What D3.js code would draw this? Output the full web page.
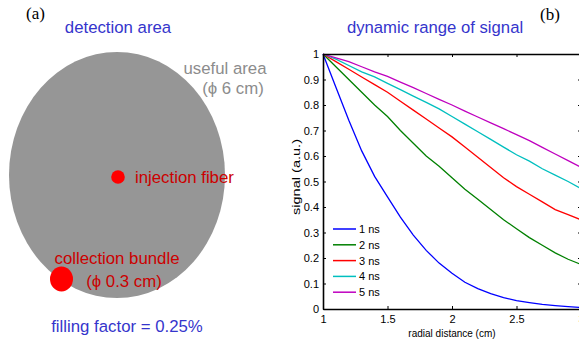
<!DOCTYPE html>
<html>
<head>
<meta charset="utf-8">
<script src="https://cdn.jsdelivr.net/npm/d3@7"></script>
<style>
  body { margin: 0; background: #fff; }
  text { font-family: "Liberation Sans", Arial, sans-serif; }
</style>
</head>
<body>
<div id="fig"></div>
<script>
// radial distance (cm)
const distance = [1.0, 1.1, 1.2, 1.3, 1.4, 1.5, 1.6, 1.7, 1.8, 1.9, 2.0,
                  2.1, 2.2, 2.3, 2.4, 2.5, 2.6, 2.7, 2.8, 2.9, 3.0];

// normalised signal for each gate delay
const ns1 = [1, 0.87, 0.74, 0.62, 0.52, 0.44, 0.36, 0.29, 0.23, 0.18, 0.14,
             0.105, 0.08, 0.06, 0.045, 0.033, 0.025, 0.018, 0.013, 0.009, 0.006];
const ns2 = [1, 0.95, 0.9, 0.85, 0.8, 0.755, 0.70, 0.65, 0.60, 0.56, 0.515,
             0.47, 0.43, 0.39, 0.35, 0.315, 0.28, 0.25, 0.22, 0.195, 0.175];
const ns3 = [1, 0.97, 0.94, 0.91, 0.88, 0.85, 0.815, 0.78, 0.745, 0.71, 0.675,
             0.635, 0.595, 0.555, 0.515, 0.48, 0.45, 0.42, 0.39, 0.37, 0.35];
const ns4 = [1, 0.98, 0.955, 0.93, 0.91, 0.885, 0.86, 0.835, 0.81, 0.785, 0.755,
             0.725, 0.695, 0.665, 0.635, 0.605, 0.58, 0.55, 0.525, 0.5, 0.472];
const ns5 = [1, 0.985, 0.97, 0.95, 0.93, 0.912, 0.89, 0.868, 0.845, 0.822, 0.8,
             0.776, 0.753, 0.73, 0.707, 0.684, 0.66, 0.634, 0.608, 0.582, 0.556];

const seriesNames = ["1 ns", "2 ns", "3 ns", "4 ns", "5 ns"];
const seriesColors = ["#0000ff", "#008000", "#ff0000", "#00bfbf", "#bf00bf"];
const seriesValues = [ns1, ns2, ns3, ns4, ns5];

const xTicks = [1, 1.5, 2, 2.5, 3];
const yTicks = [0, 0.1, 0.2, 0.3, 0.4, 0.5, 0.6, 0.7, 0.8, 0.9, 1];

const W = 579, H = 348;
const svg = d3.select("#fig").append("svg")
    .attr("width", W)
    .attr("height", H);

/* ---------- panel (a): detection area sketch ---------- */
const blue = "#3535cc";
const red = "#cc0000";
const bigFont = "16.8px";

svg.append("text")
    .attr("x", 26).attr("y", 19)
    .style("font-family", "'Liberation Serif', serif")
    .style("font-size", "17px")
    .text("(a)");

svg.append("text")
    .attr("x", 118).attr("y", 33)
    .attr("text-anchor", "middle")
    .attr("fill", blue)
    .style("font-size", bigFont)
    .text("detection area");

svg.append("ellipse")
    .attr("cx", 117).attr("cy", 175)
    .attr("rx", 108).attr("ry", 123)
    .attr("fill", "#969696");

svg.append("text")
    .attr("x", 225).attr("y", 74)
    .attr("text-anchor", "middle")
    .attr("fill", "#8c8c8c")
    .style("font-size", bigFont)
    .text("useful area");
svg.append("text")
    .attr("x", 233).attr("y", 94)
    .attr("text-anchor", "middle")
    .attr("fill", "#8c8c8c")
    .style("font-size", bigFont)
    .text("(\u03d5 6 cm)");

svg.append("circle")
    .attr("cx", 118).attr("cy", 177).attr("r", 6.8)
    .attr("fill", "#ff0000");
svg.append("text")
    .attr("x", 135).attr("y", 183)
    .attr("fill", red)
    .style("font-size", bigFont)
    .text("injection fiber");

svg.append("text")
    .attr("x", 117).attr("y", 264)
    .attr("text-anchor", "middle")
    .attr("fill", red)
    .style("font-size", bigFont)
    .text("collection bundle");
svg.append("text")
    .attr("x", 124).attr("y", 287)
    .attr("text-anchor", "middle")
    .attr("fill", red)
    .style("font-size", bigFont)
    .text("(\u03d5 0.3 cm)");
svg.append("ellipse")
    .attr("cx", 61.5).attr("cy", 279).attr("rx", 11.5).attr("ry", 12.5)
    .attr("fill", "#ff0000");

svg.append("text")
    .attr("x", 127).attr("y", 332)
    .attr("text-anchor", "middle")
    .attr("fill", blue)
    .style("font-size", bigFont)
    .text("filling factor = 0.25%");

/* ---------- panel (b): dynamic range plot ---------- */
svg.append("text")
    .attr("x", 540).attr("y", 20)
    .style("font-family", "'Liberation Serif', serif")
    .style("font-size", "17px")
    .text("(b)");

svg.append("text")
    .attr("x", 435).attr("y", 33)
    .attr("text-anchor", "middle")
    .attr("fill", blue)
    .style("font-size", "16.7px")
    .text("dynamic range of signal");

const x = d3.scaleLinear().domain([1, 3]).range([323, 581]);
const y = d3.scaleLinear().domain([0, 1]).range([309, 54]);

const plot = svg.append("g");

// curves
const line = d3.line()
    .x(d => x(d[0]))
    .y(d => y(d[1]));

seriesValues.forEach((vals, i) => {
    plot.append("path")
        .datum(distance.map((d, j) => [d, vals[j]]))
        .attr("fill", "none")
        .attr("stroke", seriesColors[i])
        .attr("stroke-width", 1.3)
        .attr("d", line);
});

// axes with inward ticks
const fmt = d3.format("~g");
const axBottom = plot.append("g")
    .attr("transform", `translate(0,${y(0)})`)
    .call(d3.axisBottom(x).tickValues(xTicks).tickFormat(fmt).tickSizeInner(-3).tickSizeOuter(0).tickPadding(6));
const axTop = plot.append("g")
    .attr("transform", `translate(0,${y(1)})`)
    .call(d3.axisTop(x).tickValues(xTicks).tickFormat("").tickSizeInner(-3).tickSizeOuter(0));
const axLeft = plot.append("g")
    .attr("transform", `translate(${x(1)},0)`)
    .call(d3.axisLeft(y).tickValues(yTicks).tickFormat(fmt).tickSizeInner(-3).tickSizeOuter(0).tickPadding(4));
const axRight = plot.append("g")
    .attr("transform", `translate(${x(3)},0)`)
    .call(d3.axisRight(y).tickValues(yTicks).tickFormat("").tickSizeInner(-3).tickSizeOuter(0));

[axBottom, axTop, axLeft, axRight].forEach(g => {
    g.select(".domain").attr("stroke", "#000").attr("stroke-width", 1.6);
    g.selectAll(".tick line").attr("stroke", "#000");
    g.selectAll("text")
        .style("font-family", "'Liberation Sans', Arial, sans-serif")
        .style("font-size", "11px")
        .attr("fill", "#000");
});

svg.append("text")
    .attr("x", 452).attr("y", 337)
    .attr("text-anchor", "middle")
    .style("font-size", "10px")
    .text("radial distance (cm)");

svg.append("text")
    .attr("transform", "translate(300,177) rotate(-90)")
    .attr("text-anchor", "middle")
    .attr("textLength", 76)
    .attr("lengthAdjust", "spacingAndGlyphs")
    .style("font-size", "11px")
    .text("signal (a.u.)");

// legend
const legend = plot.append("g");
seriesNames.forEach((name, i) => {
    const ly = 229 + i * 15.8;
    legend.append("line")
        .attr("x1", 333).attr("x2", 356)
        .attr("y1", ly).attr("y2", ly)
        .attr("stroke", seriesColors[i])
        .attr("stroke-width", 1.5);
    legend.append("text")
        .attr("x", 359).attr("y", ly + 4)
        .style("font-size", "11px")
        .text(name);
});
</script>
</body>
</html>
